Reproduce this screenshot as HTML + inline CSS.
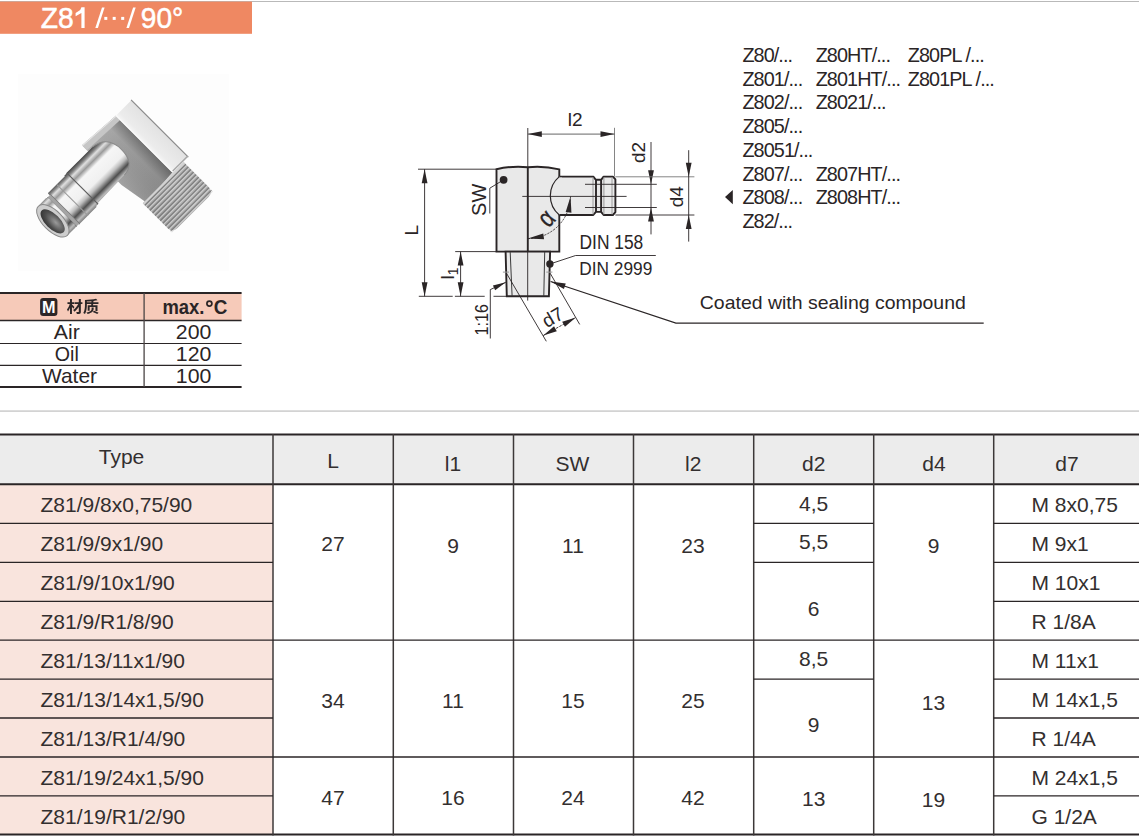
<!DOCTYPE html>
<html><head><meta charset="utf-8"><style>
html,body{margin:0;padding:0;background:#fff;}
body{width:1139px;height:837px;overflow:hidden;position:relative;}
svg{position:absolute;left:0;top:0;font-family:"Liberation Sans", sans-serif;}
.cl{letter-spacing:-0.9px;}
</style></head><body>
<svg width="1139" height="837" viewBox="0 0 1139 837">
<rect x="0" y="1" width="1139" height="1" fill="#b9b9b9"/>
<rect x="0" y="1.6" width="252" height="32.2" fill="#ef8862"/>
<text x="40.8" y="28" font-size="30" textLength="33" lengthAdjust="spacingAndGlyphs" fill="#fff" stroke="#fff" stroke-width="0.5">Z8</text>
<polygon points="81.4,7.3 84.6,7.3 84.6,28 81.4,28 81.4,12.9 75.6,16.2 75.6,13.1 80.2,10.1" fill="#fff"/>
<polygon points="95.3,28 97.9,28 104.6,7.5 102,7.5" fill="#fff"/>
<rect x="104.3" y="16.9" width="3" height="3" fill="#fff"/>
<rect x="112.7" y="16.9" width="3" height="3" fill="#fff"/>
<rect x="121.2" y="16.9" width="3" height="3" fill="#fff"/>
<polygon points="126.4,28 129,28 135.7,7.5 133.1,7.5" fill="#fff"/>
<text x="140.8" y="28" font-size="30" textLength="42.5" lengthAdjust="spacingAndGlyphs" fill="#fff" stroke="#fff" stroke-width="0.5">90°</text>
<rect x="18" y="74" width="211" height="197" fill="#fdfdfd"/>
<defs>
<linearGradient id="gFace" gradientUnits="userSpaceOnUse" x1="0" y1="-34" x2="0" y2="52"><stop offset="0" stop-color="#b0b0b0"/><stop offset="0.3" stop-color="#a2a2a2"/><stop offset="1" stop-color="#8e8e8e"/></linearGradient>
<linearGradient id="gFaceS" gradientUnits="userSpaceOnUse" x1="74" y1="0" x2="119" y2="0"><stop offset="0" stop-color="#fff" stop-opacity="0.1"/><stop offset="0.7" stop-color="#000" stop-opacity="0.02"/><stop offset="1" stop-color="#000" stop-opacity="0.28"/></linearGradient>
<linearGradient id="gTopF" gradientUnits="userSpaceOnUse" x1="118" y1="0" x2="141" y2="0"><stop offset="0" stop-color="#f7f7f7"/><stop offset="0.25" stop-color="#ececec"/><stop offset="1" stop-color="#e2e2e2"/></linearGradient>
<linearGradient id="gCyl" gradientUnits="userSpaceOnUse" x1="0" y1="-24" x2="0" y2="21"><stop offset="0" stop-color="#4a4a4a"/><stop offset="0.07" stop-color="#8a8a8a"/><stop offset="0.13" stop-color="#e0e0e0"/><stop offset="0.22" stop-color="#9a9a9a"/><stop offset="0.32" stop-color="#f6f6f6"/><stop offset="0.6" stop-color="#f0f0f0"/><stop offset="0.7" stop-color="#bdbdbd"/><stop offset="0.82" stop-color="#4e4e4e"/><stop offset="0.92" stop-color="#bcbcbc"/><stop offset="1" stop-color="#7c7c7c"/></linearGradient>
<linearGradient id="gThr" gradientUnits="userSpaceOnUse" x1="76" y1="0" x2="134" y2="0"><stop offset="0" stop-color="#a0a0a0"/><stop offset="0.6" stop-color="#b4b4b4"/><stop offset="1" stop-color="#a8a8a8"/></linearGradient>
<radialGradient id="gHole" cx="0.6" cy="0.6" r="0.7"><stop offset="0" stop-color="#9a9a9a"/><stop offset="0.6" stop-color="#4e4e4e"/><stop offset="1" stop-color="#2e2e2e"/></radialGradient>
</defs>
<g transform="translate(53,221) rotate(-45)">
<path d="M74,-33 L119,-30 L119,50 L79,53 L74,23 Z" fill="url(#gFace)"/>
<path d="M74,-33 L119,-30 L119,50 L79,53 L74,23 Z" fill="url(#gFaceS)"/>
<path d="M74,-33 L119,-30 L119,-24 L74,-26 Z" fill="#c6c6c6"/>
<path d="M74,-33 L119,-30 L119,-29 L74,-32 Z" fill="#e8e8e8"/>
<rect x="119" y="-30" width="22" height="80" rx="1" fill="url(#gTopF)"/>
<rect x="140.3" y="-30.5" width="1.2" height="81" fill="#8a8a8a"/>
<rect x="119" y="48.6" width="22" height="1.6" fill="#a8a8a8"/>
<rect x="118.5" y="-30" width="1.5" height="80" fill="#fafafa"/>
<path d="M76,51 L134,51 L134,86 Q134,93 127,93 L83,93 Q76,93 76,86 Z" fill="url(#gThr)"/>
<rect x="76" y="53.2" width="58" height="1.2" fill="#6e6e6e" opacity="0.75"/>
<rect x="76" y="54.7" width="58" height="1.0" fill="#dadada" opacity="0.8"/>
<rect x="76" y="56.9" width="58" height="1.2" fill="#6e6e6e" opacity="0.75"/>
<rect x="76" y="58.4" width="58" height="1.0" fill="#dadada" opacity="0.8"/>
<rect x="76" y="60.5" width="58" height="1.2" fill="#6e6e6e" opacity="0.75"/>
<rect x="76" y="62.0" width="58" height="1.0" fill="#dadada" opacity="0.8"/>
<rect x="76" y="64.2" width="58" height="1.2" fill="#6e6e6e" opacity="0.75"/>
<rect x="76" y="65.7" width="58" height="1.0" fill="#dadada" opacity="0.8"/>
<rect x="76" y="67.8" width="58" height="1.2" fill="#6e6e6e" opacity="0.75"/>
<rect x="76" y="69.3" width="58" height="1.0" fill="#dadada" opacity="0.8"/>
<rect x="76" y="71.5" width="58" height="1.2" fill="#6e6e6e" opacity="0.75"/>
<rect x="76" y="73.0" width="58" height="1.0" fill="#dadada" opacity="0.8"/>
<rect x="76" y="75.1" width="58" height="1.2" fill="#6e6e6e" opacity="0.75"/>
<rect x="76" y="76.6" width="58" height="1.0" fill="#dadada" opacity="0.8"/>
<rect x="76" y="78.8" width="58" height="1.2" fill="#6e6e6e" opacity="0.75"/>
<rect x="76" y="80.2" width="58" height="1.0" fill="#dadada" opacity="0.8"/>
<rect x="76" y="82.4" width="58" height="1.2" fill="#6e6e6e" opacity="0.75"/>
<rect x="76" y="83.9" width="58" height="1.0" fill="#dadada" opacity="0.8"/>
<rect x="76" y="86.1" width="58" height="1.2" fill="#6e6e6e" opacity="0.75"/>
<rect x="76" y="87.6" width="58" height="1.0" fill="#dadada" opacity="0.8"/>
<rect x="76" y="89.7" width="58" height="1.2" fill="#6e6e6e" opacity="0.75"/>
<rect x="76" y="91.2" width="58" height="1.0" fill="#dadada" opacity="0.8"/>
<rect x="76" y="51" width="58" height="2" fill="#d2d2d2"/>
<path d="M43,-24.4 L80,-24.4 Q99,-22 99,-2 Q99,17 83,18 L43,19 Z" fill="url(#gCyl)"/>
<path d="M80,-24.4 Q99,-22 99,-2 Q99,17 83,18" fill="none" stroke="#8a8a8a" stroke-width="1"/>
<rect x="40" y="-24" width="4" height="44" fill="url(#gCyl)"/>
<rect x="43.2" y="-24" width="1.2" height="44" fill="#5e5e5e"/>
<rect x="16" y="-23.2" width="25" height="44" fill="url(#gCyl)"/>
<rect x="16" y="-23" width="1.4" height="44" fill="#7a7a7a"/>
<rect x="28" y="-23" width="1.0" height="44" fill="#9a9a9a"/>
<rect x="12" y="-20.5" width="4.5" height="41" fill="#a4a4a4"/>
<rect x="12" y="-20.5" width="1.2" height="41" fill="#606060"/>
<rect x="0" y="-21" width="13" height="41.5" rx="2" fill="url(#gCyl)"/>
<ellipse cx="0" cy="-0.2" rx="10" ry="20.6" fill="#cdcdcd"/>
<ellipse cx="0" cy="-0.2" rx="10" ry="20.6" fill="none" stroke="#8a8a8a" stroke-width="1"/>
<ellipse cx="-0.5" cy="0" rx="7.2" ry="15.5" fill="url(#gHole)"/>
</g>
<rect x="0" y="293.5" width="241.6" height="27" fill="#f6cab9"/>
<line x1="0" y1="293" x2="241.6" y2="293" stroke="#2a2526" stroke-width="1.8"/>
<line x1="0" y1="320.5" x2="241.6" y2="320.5" stroke="#2a2526" stroke-width="1.6"/>
<line x1="0" y1="343.5" x2="241.6" y2="343.5" stroke="#2a2526" stroke-width="1.1"/>
<line x1="0" y1="365.4" x2="241.6" y2="365.4" stroke="#2a2526" stroke-width="1.1"/>
<line x1="0" y1="387" x2="241.6" y2="387" stroke="#2a2526" stroke-width="1.8"/>
<line x1="144.1" y1="293" x2="144.1" y2="387" stroke="#4a4444" stroke-width="1.3"/>
<rect x="40.1" y="297.9" width="17.3" height="18" rx="3" fill="#2b2627"/>
<text x="48.8" y="313.3" font-size="16" text-anchor="middle" textLength="13.5" lengthAdjust="spacingAndGlyphs" font-weight="bold" fill="#fff">M</text>
<g transform="translate(66.74,298.41) scale(0.0162)"><path d="M744 32V237H476V351H708C635 497 513 645 390 723C420 748 456 790 477 821C573 749 669 636 744 516V822C744 840 737 845 719 846C700 846 639 846 584 844C600 878 619 932 624 965C711 965 774 962 816 942C857 923 871 891 871 823V351H967V237H871V32ZM200 30V237H45V351H185C151 471 88 605 16 685C37 717 66 768 78 804C124 749 165 669 200 581V969H321V515C354 557 387 603 406 635L476 533C454 508 359 411 321 377V351H448V237H321V30Z M1602 838C1695 874 1814 930 1880 969L1965 889C1895 855 1778 802 1685 768ZM1535 561V637C1535 703 1515 807 1209 877C1238 901 1275 944 1291 969C1616 878 1661 740 1661 640V561ZM1294 417V768H1414V527H1772V776H1899V417H1624L1634 346H1958V241H1644L1650 161C1741 150 1826 136 1901 120L1807 24C1644 62 1367 86 1125 95V380C1125 533 1118 750 1023 898C1052 909 1105 939 1128 958C1228 799 1243 548 1243 380V346H1514L1508 417ZM1520 241H1243V194C1334 190 1429 184 1522 175Z" fill="#2b2627"/></g>
<text x="162.4" y="313.9" font-size="20" textLength="42" lengthAdjust="spacingAndGlyphs" font-weight="bold" fill="#2a2526">max.</text>
<circle cx="209.4" cy="303.6" r="2.5" fill="none" stroke="#2a2526" stroke-width="1.7"/>
<text x="213.8" y="313.9" font-size="20.5" textLength="13.6" lengthAdjust="spacingAndGlyphs" font-weight="bold" fill="#2a2526">C</text>
<text x="66.8" y="338.9" font-size="21" text-anchor="middle" textLength="26" lengthAdjust="spacingAndGlyphs" fill="#2a2526">Air</text>
<text x="66.8" y="361" font-size="21" text-anchor="middle" textLength="24" lengthAdjust="spacingAndGlyphs" fill="#2a2526">Oil</text>
<text x="69.5" y="382.9" font-size="21" text-anchor="middle" textLength="55" lengthAdjust="spacingAndGlyphs" fill="#2a2526">Water</text>
<text x="193.6" y="338.6" font-size="21" text-anchor="middle" textLength="35.5" lengthAdjust="spacingAndGlyphs" fill="#2a2526">200</text>
<text x="193.6" y="361" font-size="21" text-anchor="middle" textLength="35.5" lengthAdjust="spacingAndGlyphs" fill="#2a2526">120</text>
<text x="193.6" y="383.3" font-size="21" text-anchor="middle" textLength="35.5" lengthAdjust="spacingAndGlyphs" fill="#2a2526">100</text>
<rect x="0" y="410.3" width="1139" height="1.6" fill="#cfcfcf"/>
<rect x="0" y="434.5" width="1139" height="49.5" fill="#ececec"/>
<rect x="0" y="484" width="273" height="350.5" fill="#f9e4dd"/>
<line x1="0" y1="434.4" x2="1139" y2="434.4" stroke="#2a2526" stroke-width="2.0"/>
<line x1="0" y1="484.2" x2="1139" y2="484.2" stroke="#2a2526" stroke-width="1.9"/>
<line x1="0" y1="834.6" x2="1139" y2="834.6" stroke="#2a2526" stroke-width="2.0"/>
<line x1="273" y1="434" x2="273" y2="835.5" stroke="#3c3838" stroke-width="1.5"/>
<line x1="393.3" y1="434" x2="393.3" y2="835.5" stroke="#3c3838" stroke-width="1.5"/>
<line x1="513.5" y1="434" x2="513.5" y2="835.5" stroke="#3c3838" stroke-width="1.5"/>
<line x1="633.5" y1="434" x2="633.5" y2="835.5" stroke="#3c3838" stroke-width="1.5"/>
<line x1="753.7" y1="434" x2="753.7" y2="835.5" stroke="#3c3838" stroke-width="1.5"/>
<line x1="873.7" y1="434" x2="873.7" y2="835.5" stroke="#3c3838" stroke-width="1.5"/>
<line x1="993.7" y1="434" x2="993.7" y2="835.5" stroke="#3c3838" stroke-width="1.5"/>
<line x1="0" y1="523.3" x2="273" y2="523.3" stroke="#2a2526" stroke-width="1.3"/>
<line x1="993.7" y1="523.3" x2="1139" y2="523.3" stroke="#2a2526" stroke-width="1.3"/>
<line x1="0" y1="562.4" x2="273" y2="562.4" stroke="#2a2526" stroke-width="1.3"/>
<line x1="993.7" y1="562.4" x2="1139" y2="562.4" stroke="#2a2526" stroke-width="1.3"/>
<line x1="0" y1="601.3" x2="273" y2="601.3" stroke="#2a2526" stroke-width="1.3"/>
<line x1="993.7" y1="601.3" x2="1139" y2="601.3" stroke="#2a2526" stroke-width="1.3"/>
<line x1="0" y1="640.2" x2="273" y2="640.2" stroke="#2a2526" stroke-width="1.3"/>
<line x1="993.7" y1="640.2" x2="1139" y2="640.2" stroke="#2a2526" stroke-width="1.3"/>
<line x1="0" y1="679.2" x2="273" y2="679.2" stroke="#2a2526" stroke-width="1.3"/>
<line x1="993.7" y1="679.2" x2="1139" y2="679.2" stroke="#2a2526" stroke-width="1.3"/>
<line x1="0" y1="718.0" x2="273" y2="718.0" stroke="#2a2526" stroke-width="1.3"/>
<line x1="993.7" y1="718.0" x2="1139" y2="718.0" stroke="#2a2526" stroke-width="1.3"/>
<line x1="0" y1="757.0" x2="273" y2="757.0" stroke="#2a2526" stroke-width="1.3"/>
<line x1="993.7" y1="757.0" x2="1139" y2="757.0" stroke="#2a2526" stroke-width="1.3"/>
<line x1="0" y1="795.9" x2="273" y2="795.9" stroke="#2a2526" stroke-width="1.3"/>
<line x1="993.7" y1="795.9" x2="1139" y2="795.9" stroke="#2a2526" stroke-width="1.3"/>
<line x1="273" y1="640.2" x2="993.7" y2="640.2" stroke="#2a2526" stroke-width="1.3"/>
<line x1="273" y1="757.0" x2="993.7" y2="757.0" stroke="#2a2526" stroke-width="1.3"/>
<line x1="753.7" y1="523.3" x2="873.7" y2="523.3" stroke="#2a2526" stroke-width="1.3"/>
<line x1="753.7" y1="562.4" x2="873.7" y2="562.4" stroke="#2a2526" stroke-width="1.3"/>
<line x1="753.7" y1="679.2" x2="873.7" y2="679.2" stroke="#2a2526" stroke-width="1.3"/>
<text x="121.5" y="464.3" font-size="21" text-anchor="middle" fill="#332f2f">Type</text>
<text x="333" y="467.7" font-size="21" text-anchor="middle" fill="#332f2f">L</text>
<text x="453" y="471.3" font-size="21" text-anchor="middle" fill="#332f2f">l1</text>
<text x="572.3" y="471.3" font-size="21" text-anchor="middle" fill="#332f2f">SW</text>
<text x="693.3" y="471.3" font-size="21" text-anchor="middle" fill="#332f2f">l2</text>
<text x="813.8" y="471.3" font-size="21" text-anchor="middle" fill="#332f2f">d2</text>
<text x="934" y="471.3" font-size="21" text-anchor="middle" fill="#332f2f">d4</text>
<text x="1067" y="471.3" font-size="21" text-anchor="middle" fill="#332f2f">d7</text>
<text x="40.5" y="511.8" font-size="21" fill="#332f2f">Z81/9/8x0,75/90</text>
<text x="1031.5" y="511.8" font-size="21" fill="#332f2f">M 8x0,75</text>
<text x="40.5" y="551.0999999999999" font-size="21" fill="#332f2f">Z81/9/9x1/90</text>
<text x="1031.5" y="551.0999999999999" font-size="21" fill="#332f2f">M 9x1</text>
<text x="40.5" y="590.1999999999999" font-size="21" fill="#332f2f">Z81/9/10x1/90</text>
<text x="1031.5" y="590.1999999999999" font-size="21" fill="#332f2f">M 10x1</text>
<text x="40.5" y="629.0999999999999" font-size="21" fill="#332f2f">Z81/9/R1/8/90</text>
<text x="1031.5" y="629.0999999999999" font-size="21" fill="#332f2f">R 1/8A</text>
<text x="40.5" y="668.0" font-size="21" fill="#332f2f">Z81/13/11x1/90</text>
<text x="1031.5" y="668.0" font-size="21" fill="#332f2f">M 11x1</text>
<text x="40.5" y="707.0" font-size="21" fill="#332f2f">Z81/13/14x1,5/90</text>
<text x="1031.5" y="707.0" font-size="21" fill="#332f2f">M 14x1,5</text>
<text x="40.5" y="745.8" font-size="21" fill="#332f2f">Z81/13/R1/4/90</text>
<text x="1031.5" y="745.8" font-size="21" fill="#332f2f">R 1/4A</text>
<text x="40.5" y="784.8" font-size="21" fill="#332f2f">Z81/19/24x1,5/90</text>
<text x="1031.5" y="784.8" font-size="21" fill="#332f2f">M 24x1,5</text>
<text x="40.5" y="823.6999999999999" font-size="21" fill="#332f2f">Z81/19/R1/2/90</text>
<text x="1031.5" y="823.6999999999999" font-size="21" fill="#332f2f">G 1/2A</text>
<text x="333" y="550.5" font-size="21" text-anchor="middle" fill="#332f2f">27</text>
<text x="333" y="708.3" font-size="21" text-anchor="middle" fill="#332f2f">34</text>
<text x="333" y="805.2" font-size="21" text-anchor="middle" fill="#332f2f">47</text>
<text x="453" y="552.8" font-size="21" text-anchor="middle" fill="#332f2f">9</text>
<text x="453" y="708.3" font-size="21" text-anchor="middle" fill="#332f2f">11</text>
<text x="453" y="805.2" font-size="21" text-anchor="middle" fill="#332f2f">16</text>
<text x="573" y="552.8" font-size="21" text-anchor="middle" fill="#332f2f">11</text>
<text x="573" y="708.3" font-size="21" text-anchor="middle" fill="#332f2f">15</text>
<text x="573" y="805.2" font-size="21" text-anchor="middle" fill="#332f2f">24</text>
<text x="693" y="552.8" font-size="21" text-anchor="middle" fill="#332f2f">23</text>
<text x="693" y="708.3" font-size="21" text-anchor="middle" fill="#332f2f">25</text>
<text x="693" y="805.2" font-size="21" text-anchor="middle" fill="#332f2f">42</text>
<text x="813.7" y="510.7" font-size="21" text-anchor="middle" fill="#332f2f">4,5</text>
<text x="813.7" y="549.3" font-size="21" text-anchor="middle" fill="#332f2f">5,5</text>
<text x="813.7" y="615.7" font-size="21" text-anchor="middle" fill="#332f2f">6</text>
<text x="813.7" y="666.1" font-size="21" text-anchor="middle" fill="#332f2f">8,5</text>
<text x="813.7" y="731.8" font-size="21" text-anchor="middle" fill="#332f2f">9</text>
<text x="813.7" y="805.6" font-size="21" text-anchor="middle" fill="#332f2f">13</text>
<text x="933.5" y="553.4" font-size="21" text-anchor="middle" fill="#332f2f">9</text>
<text x="933.5" y="709.6" font-size="21" text-anchor="middle" fill="#332f2f">13</text>
<text x="933.5" y="806.5" font-size="21" text-anchor="middle" fill="#332f2f">19</text>
<path d="M496.5,251.6 L496.5,169.2 Q512,165.6 527.8,167.2 Q544,165.6 559.3,169.4 L559.3,251.6 Z" fill="#e9e9e9" stroke="#2a2526" stroke-width="1.9"/>
<line x1="527.8" y1="167" x2="527.8" y2="251.6" stroke="#2a2526" stroke-width="1.9"/>
<path d="M559.3,176.6 L593.3,176.6 L595.9,179.8 L601.1,179.8 L603.6,176.6 L612.9,176.6 L615.4,179.4 L615.4,212.2 L612.9,215 L603.6,215 L601.1,211.9 L595.9,211.9 L593.3,215 L559.3,215 Z" fill="#e9e9e9" stroke="none"/>
<path d="M559.3,176.6 L593.3,176.6 L595.9,179.8 L601.1,179.8 L603.6,176.6 L612.9,176.6 L615.4,179.4 L615.4,212.2 L612.9,215 L603.6,215 L601.1,211.9 L595.9,211.9 L593.3,215 L559.3,215" fill="none" stroke="#2a2526" stroke-width="1.9" stroke-linejoin="round"/>
<rect x="558" y="177.6" width="4" height="36.4" fill="#e9e9e9"/>
<path d="M559.3,176.6 A25,25 0 0 0 559.3,215" fill="#e9e9e9" stroke="#2a2526" stroke-width="1.2"/>
<line x1="596" y1="179.8" x2="596" y2="211.9" stroke="#2a2526" stroke-width="1.9"/>
<line x1="601.1" y1="179.8" x2="601.1" y2="211.9" stroke="#2a2526" stroke-width="1.9"/>
<line x1="593.0" y1="177.2" x2="593.0" y2="214.4" stroke="#9a9a9a" stroke-width="1.0"/>
<line x1="603.9" y1="177.2" x2="603.9" y2="214.4" stroke="#9a9a9a" stroke-width="1.0"/>
<line x1="612.0" y1="177.2" x2="612.0" y2="214.4" stroke="#9a9a9a" stroke-width="1.0"/>
<path d="M505.6,251.6 L550.1,251.6 L548.9,296.3 L506.8,296.3 Z" fill="#e9e9e9" stroke="#2a2526" stroke-width="1.9"/>
<line x1="510.2" y1="252" x2="512.1" y2="296" stroke="#3a3a3a" stroke-width="1.0"/>
<line x1="544.7" y1="252" x2="543.8" y2="296" stroke="#3a3a3a" stroke-width="1.0"/>
<line x1="527.7" y1="251.6" x2="527.7" y2="300.6" stroke="#2a2526" stroke-width="0.9"/>
<line x1="522.3" y1="196.4" x2="626.6" y2="196.4" stroke="#2a2526" stroke-width="0.9"/>
<line x1="585" y1="184.3" x2="656.8" y2="184.3" stroke="#2a2526" stroke-width="0.9"/>
<line x1="585" y1="207.5" x2="656.8" y2="207.5" stroke="#2a2526" stroke-width="0.9"/>
<line x1="527.8" y1="128" x2="527.8" y2="167" stroke="#2a2526" stroke-width="0.9"/>
<line x1="614.5" y1="127.8" x2="614.5" y2="176.6" stroke="#777" stroke-width="0.9"/>
<line x1="527.8" y1="134.1" x2="614.5" y2="134.1" stroke="#555" stroke-width="0.9"/>
<polygon points="527.80,134.10 541.80,131.20 541.80,137.00" fill="#2a2526"/>
<polygon points="614.50,134.10 600.50,137.00 600.50,131.20" fill="#2a2526"/>
<text x="575.2" y="126.4" font-size="19" text-anchor="middle" fill="#2a2526">l2</text>
<line x1="418" y1="169.2" x2="496.5" y2="169.2" stroke="#2a2526" stroke-width="0.9"/>
<line x1="418.8" y1="296.3" x2="452.7" y2="296.3" stroke="#2a2526" stroke-width="0.9"/>
<line x1="454.9" y1="296.3" x2="484.7" y2="296.3" stroke="#2a2526" stroke-width="0.9"/>
<line x1="493.5" y1="296.3" x2="506.8" y2="296.3" stroke="#2a2526" stroke-width="0.9"/>
<line x1="424.6" y1="169.2" x2="424.6" y2="296.3" stroke="#2a2526" stroke-width="0.9"/>
<polygon points="424.60,169.20 427.50,183.20 421.70,183.20" fill="#2a2526"/>
<polygon points="424.60,296.30 421.70,282.30 427.50,282.30" fill="#2a2526"/>
<text x="0" y="0" font-size="19" text-anchor="middle" fill="#2a2526" transform="translate(418.2,230.3) rotate(-90)">L</text>
<line x1="455.2" y1="251.6" x2="496.5" y2="251.6" stroke="#2a2526" stroke-width="0.9"/>
<line x1="460.6" y1="251.6" x2="460.6" y2="296.3" stroke="#2a2526" stroke-width="0.9"/>
<polygon points="460.60,251.60 463.50,265.60 457.70,265.60" fill="#2a2526"/>
<polygon points="460.60,296.30 457.70,282.30 463.50,282.30" fill="#2a2526"/>
<g transform="translate(454,279.5) rotate(-90)"><text x="0" y="0" font-size="19" fill="#2a2526">l<tspan font-size="14" dy="3.5">1</tspan></text></g>
<circle cx="503.6" cy="179.8" r="3.9" fill="#2a2526"/>
<polyline points="503.6,179.8 489.8,188.2 489.8,213.5" fill="none" stroke="#2a2526" stroke-width="0.9"/>
<text x="0" y="0" font-size="20" text-anchor="middle" fill="#2a2526" transform="translate(485.6,199.8) rotate(-90)">SW</text>
<line x1="651" y1="142" x2="651" y2="234.4" stroke="#2a2526" stroke-width="0.9"/>
<polygon points="651.00,184.30 648.10,170.30 653.90,170.30" fill="#2a2526"/>
<polygon points="651.00,207.50 653.90,221.50 648.10,221.50" fill="#2a2526"/>
<text x="0" y="0" font-size="19" text-anchor="middle" fill="#2a2526" transform="translate(644.6,152.5) rotate(-90)">d2</text>
<line x1="615.4" y1="176.8" x2="694.4" y2="176.8" stroke="#777" stroke-width="0.9"/>
<line x1="615.4" y1="215" x2="694.4" y2="215" stroke="#2a2526" stroke-width="0.9"/>
<line x1="688.7" y1="150.2" x2="688.7" y2="241.6" stroke="#2a2526" stroke-width="0.9"/>
<polygon points="688.70,176.80 685.80,162.80 691.60,162.80" fill="#2a2526"/>
<polygon points="688.70,215.00 691.60,229.00 685.80,229.00" fill="#2a2526"/>
<text x="0" y="0" font-size="19" text-anchor="middle" fill="#2a2526" transform="translate(683.2,196.7) rotate(-90)">d4</text>
<path d="M527.8,238.6 A42.7,42.7 0 0 0 570.5,196.5" fill="none" stroke="#2a2526" stroke-width="0.9" stroke-dasharray="2.2,1.2"/>
<polygon points="527.80,238.60 543.23,233.48 544.05,239.22" fill="#2a2526"/>
<polygon points="570.50,196.50 571.45,212.73 565.70,212.03" fill="#2a2526"/>
<text x="0" y="0" font-size="22" text-anchor="middle" fill="#2a2526" transform="translate(552.6,224.2) rotate(-47) scale(0.95,1.2)" stroke="#2a2526" stroke-width="0.3">α</text>
<circle cx="549.9" cy="264" r="3.7" fill="#2a2526"/>
<polyline points="549.9,264 575.6,255.5 655.8,255.5" fill="none" stroke="#2a2526" stroke-width="0.9"/>
<text x="579.5" y="248.6" font-size="19.5" textLength="63.8" lengthAdjust="spacingAndGlyphs" fill="#2a2526">DIN 158</text>
<text x="579.3" y="275.2" font-size="19" textLength="73" lengthAdjust="spacingAndGlyphs" fill="#2a2526">DIN 2999</text>
<polyline points="505.8,282.3 490.3,289.6 490.3,338.5" fill="none" stroke="#2a2526" stroke-width="0.9"/>
<polygon points="505.80,282.30 495.15,290.19 492.93,285.49" fill="#2a2526"/>
<text x="0" y="0" font-size="19" text-anchor="middle" textLength="31.4" lengthAdjust="spacingAndGlyphs" fill="#2a2526" transform="translate(487.8,319.7) rotate(-90)">1:16</text>
<line x1="502.9" y1="272.1" x2="509" y2="272.1" stroke="#999" stroke-width="1.0"/>
<line x1="546.3" y1="272.1" x2="552.4" y2="272.1" stroke="#999" stroke-width="1.0"/>
<line x1="506.5" y1="273.3" x2="546.3" y2="341.3" stroke="#2a2526" stroke-width="0.9"/>
<line x1="550.2" y1="273.3" x2="579.7" y2="324.4" stroke="#2a2526" stroke-width="0.9"/>
<line x1="543.2" y1="335.6" x2="575.8" y2="317.4" stroke="#2a2526" stroke-width="0.9" stroke-dasharray="2.5,1.2"/>
<polygon points="543.20,335.60 554.06,326.33 556.79,331.22" fill="#2a2526"/>
<polygon points="575.80,317.40 564.94,326.67 562.21,321.78" fill="#2a2526"/>
<text x="0" y="0" font-size="19" text-anchor="middle" fill="#2a2526" transform="translate(556,323) rotate(-30)">d7</text>
<polyline points="550.6,281.6 675.9,323.1 983.7,323.1" fill="none" stroke="#2a2526" stroke-width="1.1"/>
<polygon points="550.60,281.60 565.75,283.56 563.93,289.07" fill="#2a2526"/>
<text x="699.8" y="308.5" font-size="19" textLength="266" lengthAdjust="spacingAndGlyphs" fill="#2a2526">Coated with sealing compound</text>
<text x="742.4" y="61.9" font-size="19.8" fill="#2a2526" class="cl">Z80/...</text>
<text x="742.4" y="85.65" font-size="19.8" fill="#2a2526" class="cl">Z801/...</text>
<text x="742.4" y="109.4" font-size="19.8" fill="#2a2526" class="cl">Z802/...</text>
<text x="742.4" y="133.15" font-size="19.8" fill="#2a2526" class="cl">Z805/...</text>
<text x="742.4" y="156.9" font-size="19.8" fill="#2a2526" class="cl">Z8051/...</text>
<text x="742.4" y="180.65" font-size="19.8" fill="#2a2526" class="cl">Z807/...</text>
<text x="742.4" y="204.4" font-size="19.8" fill="#2a2526" class="cl">Z808/...</text>
<text x="742.4" y="228.15" font-size="19.8" fill="#2a2526" class="cl">Z82/...</text>
<text x="815.7" y="61.9" font-size="19.8" fill="#2a2526" class="cl">Z80HT/...</text>
<text x="815.7" y="85.65" font-size="19.8" fill="#2a2526" class="cl">Z801HT/...</text>
<text x="815.7" y="109.4" font-size="19.8" fill="#2a2526" class="cl">Z8021/...</text>
<text x="815.7" y="180.65" font-size="19.8" fill="#2a2526" class="cl">Z807HT/...</text>
<text x="815.7" y="204.4" font-size="19.8" fill="#2a2526" class="cl">Z808HT/...</text>
<text x="907.8" y="61.9" font-size="19.8" fill="#2a2526" class="cl">Z80PL /...</text>
<text x="907.8" y="85.65" font-size="19.8" fill="#2a2526" class="cl">Z801PL /...</text>
<polygon points="725,197.1 732.8,190 732.8,204.2" fill="#2a2526"/>
</svg>
</body></html>
